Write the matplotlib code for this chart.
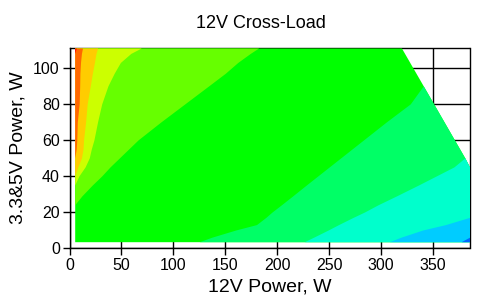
import numpy as np
import matplotlib
matplotlib.use("Agg")
import matplotlib.pyplot as plt

plt.rcParams["font.family"] = ["Liberation Sans", "DejaVu Sans"]

Y_LOAD = [3.5, 6, 10, 13, 17, 20, 24, 29, 35, 40, 45, 50, 55, 60, 70, 80, 90, 97, 103, 108, 111]

# 12V load (W) where the measured area starts (left) and ends (total power limit, right)
X_START = [5] * len(Y_LOAD)
X_LIMIT = [385, 385, 385, 385, 385, 385, 385, 385, 385, 385, 385, 380.5, 375.5, 370.5,
           360.5, 350.5, 340.5, 333.5, 327.5, 322.5, 319.5]

# left-hand bands: 12V load where each colour ends (band runs from X_START to this)
RED_END = [5, 5, 5, 5, 5, 5, 5, 5, 5, 5, 5, 5, 5, 5, 5, 5, 5, 5, 5, 5, 6.5]
ORANGE_END = [5, 5, 5, 5, 5, 5, 5, 5, 5, 5, 5, 5, 6.5, 7, 7.5, 9.3, 9.8, 10, 10.6, 11.5, 12.5]
AMBER_END = [5, 5, 5, 5, 5, 5, 5, 5, 5, 5, 8, 11.5, 13, 13.5, 15.5, 17, 20, 22, 24, 25.5, 27]
LIME_END = [5, 5, 5, 5, 5, 5, 5, 5, 5, 9, 15, 19, 21, 23.5, 27, 31, 37, 43, 49, 59, 69]
CHART_END = [5, 5, 5, 5, 5, 5, 5, 12, 22, 31, 39, 48, 57, 66, 88, 111, 134, 150, 162, 174, 182]

# right-hand bands: 12V load where each colour starts (band runs to X_LIMIT)
SPRING_START = [125, 137, 160, 180, 189, 195, 204, 215, 228, 239, 250, 261, 272, 283,
                305, 328, 340.5, 333.5, 327.5, 322.5, 319.5]
AQUA_START = [226, 235, 249, 259, 273, 284, 297, 315, 336, 353, 370, 380.5, 375.5, 370.5,
              360.5, 350.5, 340.5, 333.5, 327.5, 322.5, 319.5]
SKY_START = [308, 319, 340, 362, 385, 385, 385, 385, 385, 385, 385, 380.5, 375.5, 370.5,
             360.5, 350.5, 340.5, 333.5, 327.5, 322.5, 319.5]
BLUE_START = [377, 385, 385, 385, 385, 385, 385, 385, 385, 385, 385, 380.5, 375.5, 370.5,
              360.5, 350.5, 340.5, 333.5, 327.5, 322.5, 319.5]

X_TICKS = [0, 50, 100, 150, 200, 250, 300, 350]
Y_TICKS = [0, 20, 40, 60, 80, 100]

fig = plt.figure(figsize=(5.03, 3.06), dpi=100, facecolor="white")
ax = fig.add_axes([69.5 / 503, 58 / 306, 400 / 503, 200 / 306])

y = np.array(Y_LOAD)
kw = dict(linewidth=0, zorder=3, antialiased=False)

# base colour over the whole measured area
ax.fill_betweenx(y, X_START, X_LIMIT, color="#00ff00", **kw)

# left side, painted from outer band inwards
ax.fill_betweenx(y, X_START, CHART_END, color="#66ff00", **kw)
ax.fill_betweenx(y, X_START, LIME_END, color="#ccff00", **kw)
ax.fill_betweenx(y, X_START, AMBER_END, color="#ffcc00", **kw)
ax.fill_betweenx(y, X_START, ORANGE_END, color="#ff6600", **kw)
ax.fill_betweenx(y, X_START, RED_END, color="#ff0000", **kw)

# right side
ax.fill_betweenx(y, SPRING_START, X_LIMIT, color="#00ff66", **kw)
ax.fill_betweenx(y, AQUA_START, X_LIMIT, color="#00ffcc", **kw)
ax.fill_betweenx(y, SKY_START, X_LIMIT, color="#00ccff", **kw)
ax.fill_betweenx(y, BLUE_START, X_LIMIT, color="#0066ff", **kw)

ax.set_xlim(0, 385)
ax.set_ylim(0, 111)
ax.set_xticks(X_TICKS)
ax.set_yticks(Y_TICKS)
ax.grid(True, color="black", linewidth=1)
ax.set_axisbelow(True)
for s in ax.spines.values():
    s.set_color("black")
    s.set_linewidth(1)
ax.tick_params(direction="out", length=5, width=1, colors="black", labelsize=11.5, pad=2)

ax.set_xlabel("12V Power, W", fontsize=14, labelpad=4)
ax.set_ylabel("3.3&5V Power, W", fontsize=14, labelpad=5)
fig.text(260.5 / 503, 1 - 24 / 306, "12V Cross-Load", fontsize=13, ha="center", va="center")

fig.savefig("out.png", dpi=100, facecolor="white")
